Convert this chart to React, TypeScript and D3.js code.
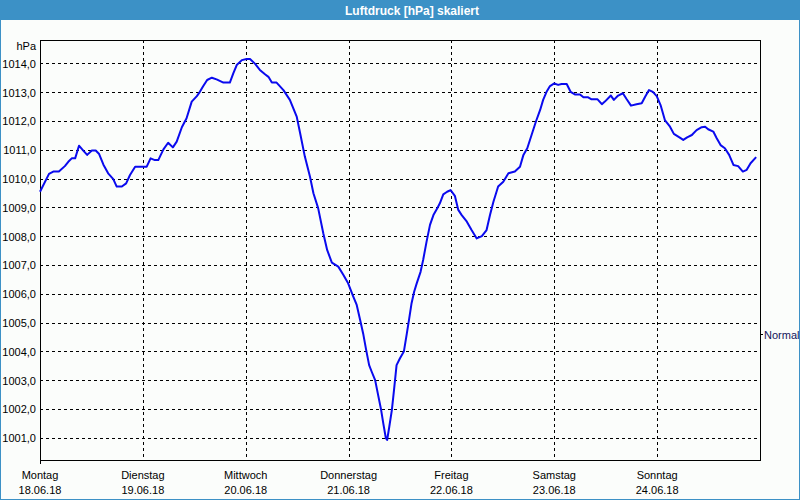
import * as d3 from 'd3';

// hours since Montag 18.06.18 00:00
const hours = [
  0, 2.1, 3.1, 4.4, 5.8, 6.6, 7.4, 8.2, 9.1, 10.1, 11.0, 12.1, 13.0, 13.8, 14.8, 15.9, 17.1, 17.9, 19.1, 20.1,
  21.0, 22.2, 24.9, 25.8, 26.8, 27.6, 28.8, 29.9, 31.0, 31.9, 33.1, 34.2, 35.4, 36.6, 37.3, 38.1, 39.0, 40.1,
  41.2, 42.8, 44.3, 45.1, 45.9, 47.1, 48.2, 49.0, 50.2, 51.3, 52.5, 53.3, 54.1, 55.2, 56.8, 58.3, 59.9, 60.7,
  61.8, 63.0, 63.8, 64.9, 66.1, 67.0, 68.1, 69.6, 70.8, 71.9, 73.1, 73.9, 74.7, 75.4, 76.1, 76.8, 77.4, 78.2,
  78.9, 79.6, 80.1, 80.7, 81.0, 81.5, 82.1, 82.6, 83.2, 84.0, 84.9, 85.6, 86.1, 86.7, 87.3, 87.9, 88.8, 89.4,
  90.2, 91.0, 91.8, 92.7, 93.3, 94.1, 95.0, 95.8, 96.8, 97.6, 98.4, 99.6, 100.7, 101.9, 103.1, 104.2, 105.0,
  105.8, 106.9, 108.1, 109.3, 110.8, 112.0, 112.8, 113.7, 114.7, 115.7, 116.7, 117.4, 118.2, 119.0, 120.0,
  120.9, 121.7, 122.9, 123.8, 124.8, 126.0, 126.8, 127.9, 128.7, 130.1, 131.1, 131.8, 133.2, 133.9, 134.9,
  136.0, 136.9, 137.9, 139.2, 140.4, 141.2, 142.1, 143.0, 143.9, 144.8, 145.8, 147.0, 147.9, 149.2, 150.1,
  151.0, 152.1, 153.2, 154.4, 155.2, 155.9, 157.1, 157.9, 158.8, 159.8, 160.8, 161.8, 162.9, 164.0, 164.9,
  165.8, 167.1,
];

const pressure = [
  1009.54, 1010.16, 1010.24, 1010.24, 1010.43, 1010.58, 1010.7, 1010.7, 1011.14, 1010.97, 1010.82, 1010.97,
  1010.97, 1010.85, 1010.48, 1010.18, 1009.98, 1009.72, 1009.72, 1009.83, 1010.12, 1010.41, 1010.41, 1010.7,
  1010.64, 1010.64, 1011.01, 1011.24, 1011.08, 1011.28, 1011.78, 1012.09, 1012.67, 1012.86, 1013.01, 1013.21,
  1013.42, 1013.5, 1013.44, 1013.33, 1013.33, 1013.65, 1013.94, 1014.11, 1014.15, 1014.15, 1013.98, 1013.77,
  1013.62, 1013.53, 1013.33, 1013.33, 1013.07, 1012.73, 1012.15, 1011.57, 1010.76, 1010.06, 1009.49, 1008.97,
  1008.1, 1007.52, 1007.08, 1006.94, 1006.65, 1006.36, 1005.9, 1005.61, 1005.09, 1004.62, 1004.05, 1003.52,
  1003.29, 1003.0, 1002.48, 1001.96, 1001.5, 1000.98, 1000.92, 1001.38, 1001.96, 1002.65, 1003.52, 1003.76,
  1003.99, 1004.62, 1005.09, 1005.67, 1006.07, 1006.36, 1006.76, 1007.17, 1007.81, 1008.39, 1008.73, 1008.97,
  1009.14, 1009.45, 1009.54, 1009.6, 1009.4, 1008.91, 1008.73, 1008.5, 1008.21, 1007.92, 1008.0, 1008.21,
  1008.73, 1009.19, 1009.72, 1009.89, 1010.18, 1010.24, 1010.41, 1010.82, 1011.05, 1011.51, 1011.97, 1012.38,
  1012.73, 1013.01, 1013.21, 1013.3, 1013.25, 1013.28, 1013.28, 1013.01, 1012.92, 1012.92, 1012.82, 1012.82,
  1012.75, 1012.75, 1012.58, 1012.67, 1012.88, 1012.73, 1012.88, 1012.96, 1012.75, 1012.53, 1012.58, 1012.61,
  1012.84, 1013.07, 1013.01, 1012.86, 1012.55, 1012.03, 1011.8, 1011.55, 1011.43, 1011.34, 1011.43, 1011.51,
  1011.68, 1011.78, 1011.8, 1011.71, 1011.63, 1011.4, 1011.16, 1011.05, 1010.82, 1010.47, 1010.43, 1010.24,
  1010.3, 1010.53, 1010.74,
];

const dayNames = ['Montag', 'Dienstag', 'Mittwoch', 'Donnerstag', 'Freitag', 'Samstag', 'Sonntag'];
const dayDates = ['18.06.18', '19.06.18', '20.06.18', '21.06.18', '22.06.18', '23.06.18', '24.06.18'];
const yTicks = [1001, 1002, 1003, 1004, 1005, 1006, 1007, 1008, 1009, 1010, 1011, 1012, 1013, 1014];
const normalValue = 1004.6;

const W = 800;
const H = 500;
const FONT = '"Liberation Sans", Arial, sans-serif';
const BLUE = '#3c91c6';

export default function App() {
  const plot = { left: 40, right: 760, top: 40, bottom: 460 };

  const x = d3.scaleLinear().domain([0, 168]).range([plot.left, plot.right]);
  const y = d3.scaleLinear().domain([1001, 1014]).range([437.7, 63.3]);

  const line = d3
    .line<number>()
    .x((_, i) => x(hours[i]))
    .y((d) => y(d));

  const dayTicks = dayNames.map((_, i) => i * 24);

  return (
    <svg
      width={W}
      height={H}
      style={{ position: 'absolute', left: 0, top: 0, display: 'block' }}
      fontFamily={FONT}
    >
      <rect x={0} y={0} width={W} height={H} fill={BLUE} />
      <rect x={1} y={20} width={W - 2} height={H - 21} fill="#fbfdfb" />
      <text
        x={412}
        y={14.5}
        textAnchor="middle"
        fill="#fff"
        fontSize={12}
        fontWeight="bold"
      >
        Luftdruck [hPa] skaliert
      </text>

      {/* grid */}
      {yTicks.map((t) => (
        <line
          key={'gy' + t}
          x1={plot.left}
          x2={plot.right}
          y1={Math.round(y(t)) + 0.5}
          y2={Math.round(y(t)) + 0.5}
          stroke="#000"
          strokeDasharray="3,3"
          shapeRendering="crispEdges"
        />
      ))}
      {dayTicks.slice(1).map((t) => (
        <line
          key={'gx' + t}
          x1={Math.round(x(t)) + 0.5}
          x2={Math.round(x(t)) + 0.5}
          y1={plot.top}
          y2={plot.bottom}
          stroke="#000"
          strokeDasharray="3,3"
          shapeRendering="crispEdges"
        />
      ))}

      {/* frame */}
      <rect
        x={plot.left + 0.5}
        y={plot.top + 0.5}
        width={plot.right - plot.left}
        height={plot.bottom - plot.top}
        fill="none"
        stroke="#000"
        shapeRendering="crispEdges"
      />
      <line x1={plot.left + 0.5} x2={plot.left + 0.5} y1={plot.bottom} y2={plot.bottom + 4} stroke="#000" shapeRendering="crispEdges" />

      {/* y labels */}
      <text x={36} y={50} textAnchor="end" fontSize={11} fill="#000">
        hPa
      </text>
      {yTicks.map((t) => (
        <text key={'ly' + t} x={36} y={y(t) + 4.5} textAnchor="end" fontSize={11} fill="#000">
          {d3.format('.1f')(t).replace('.', ',')}
        </text>
      ))}

      {/* x labels */}
      {dayTicks.map((t, i) => (
        <g key={'lx' + t}>
          <text x={x(t)} y={479} textAnchor="middle" fontSize={11} fill="#000">
            {dayNames[i]}
          </text>
          <text x={x(t)} y={494} textAnchor="middle" fontSize={11} fill="#000">
            {dayDates[i]}
          </text>
        </g>
      ))}

      {/* normal marker */}
      <line
        x1={plot.right}
        x2={plot.right + 3}
        y1={Math.round(y(normalValue)) + 0.5}
        y2={Math.round(y(normalValue)) + 0.5}
        stroke="#000"
        shapeRendering="crispEdges"
      />
      <text x={764} y={y(normalValue) + 4.5} fontSize={11} fill="#14145a">
        Normal
      </text>

      <path d={line(pressure) ?? ''} fill="none" stroke="#0a0aee" strokeWidth={2} strokeLinejoin="round" />
    </svg>
  );
}
